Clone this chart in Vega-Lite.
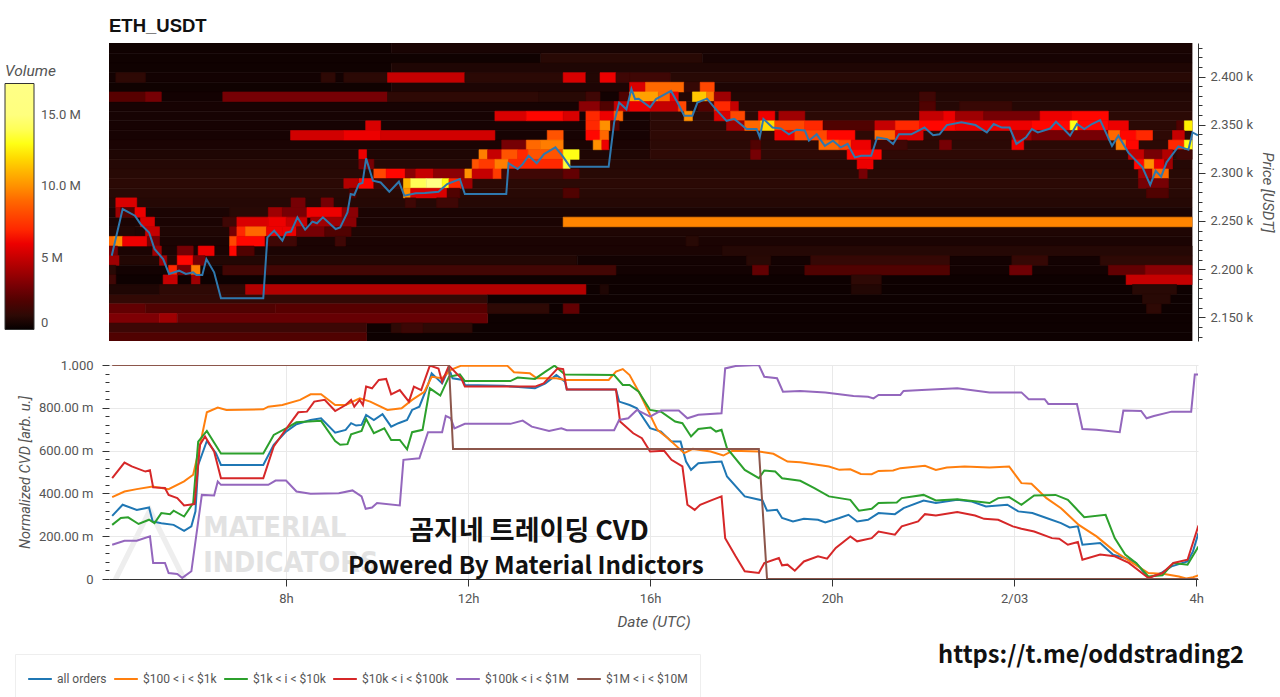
{"$schema":"https://vega.github.io/schema/vega-lite/v6.json","background":"white","padding":{"left":5,"top":17,"right":2,"bottom":0},"config":{"view":{"stroke":null},"font":"Roboto"},"spacing":15,"vconcat":[{"width":1089,"height":298,"title":{"text":"ETH_USDT","anchor":"start","frame":"group","fontSize":18.5,"fontWeight":"bold","font":"Liberation Sans","color":"#111","offset":6},"layer":[{"data":{"name":"heat"},"mark":{"type":"rect","clip":true,"strokeWidth":0.6},"encoding":{"x":{"field":"a","type":"quantitative","scale":{"domain":[4.11,28.04],"nice":false},"axis":null},"x2":{"field":"b"},"y":{"field":"lo","type":"quantitative","scale":{"domain":[2125.4,2434.8],"nice":false,"zero":false},"axis":{"orient":"right","tickCount":100,"values":[2130,2140,2150,2160,2170,2180,2190,2200,2210,2220,2230,2240,2250,2260,2270,2280,2290,2300,2310,2320,2330,2340,2350,2360,2370,2380,2390,2400,2410,2420,2430],"labelExpr":"datum.value%50==0?format(datum.value/1000,'.3f')+' k':''","grid":false,"tickSize":{"condition":{"test":"datum.value%50==0","value":7},"value":4},"domain":true,"domainColor":"#333","tickColor":"#333","labelColor":"#555","labelFontSize":13,"labelFlush":false,"labelOverlap":false,"labelPadding":5,"title":"Price [USDT]","titleFontStyle":"italic","titleFontWeight":"normal","titleFontSize":15,"titleColor":"#555","titlePadding":7}},"y2":{"field":"hi"},"color":{"field":"vol","type":"quantitative","scale":{"domain":[0,17200000],"range":["#050000","#550000","#aa0000","#ff0000","#ff5500","#ffaa00","#ffff00","#ffff80","#ffffff"]},"legend":{"orient":"none","legendX":-104,"legendY":21,"title":"Volume","titleFontStyle":"italic","titleFontWeight":"normal","titleFontSize":15.5,"titleColor":"#555","titlePadding":4,"gradientLength":246,"gradientThickness":29,"gradientStrokeColor":"#333","gradientStrokeWidth":1,"values":[0,5000000,10000000,15000000],"labelExpr":"datum.value==0?'0':datum.value==5000000?'5 M':format(datum.value/1000000,'.1f')+' M'","labelFontSize":13,"labelColor":"#555","labelOffset":7}},"stroke":{"field":"vol","type":"quantitative","scale":{"domain":[0,17200000],"range":["#050000","#550000","#aa0000","#ff0000","#ff5500","#ffaa00","#ffff00","#ffff80","#ffffff"]},"legend":null}}},{"data":{"name":"price"},"mark":{"type":"line","clip":true,"color":"#2f78ae","strokeWidth":2},"encoding":{"x":{"field":"h","type":"quantitative"},"y":{"field":"p","type":"quantitative"}}}]},{"width":1089,"height":214,"layer":[{"data":{"values":[{"h":5.01,"v":0.18,"label":"△"}]},"mark":{"type":"text","fontSize":105,"color":"#eeeeee","font":"DejaVu Sans","clip":true},"encoding":{"x":{"field":"h","type":"quantitative","scale":{"domain":[4.11,28.04],"nice":false},"axis":{"tickCount":100,"values":[8,12,16,20,24,28],"labelExpr":"datum.value==24?'2/03':datum.value==28?'4h':datum.value+'h'","grid":true,"gridColor":"#e9e9e9","domainColor":"#333","tickColor":"#333","tickSize":7,"labelColor":"#555","labelFontSize":13,"labelPadding":6,"title":"Date (UTC)","titleFontStyle":"italic","titleFontWeight":"normal","titleFontSize":15.5,"titleColor":"#555","titlePadding":9}},"y":{"field":"v","type":"quantitative","scale":{"domain":[0,1],"nice":false},"axis":{"tickCount":100,"values":[0,0.04,0.08,0.12,0.16,0.2,0.24,0.28,0.32,0.36,0.4,0.44,0.48,0.52,0.56,0.6,0.64,0.68,0.72,0.76,0.8,0.84,0.88,0.92,0.96,1],"labelExpr":"round(datum.value*1000)%200!=0?'':datum.value==0?'0':datum.value==1?'1.000':format(datum.value*1000,'.2f')+' m'","labelOverlap":false,"grid":true,"gridColor":"#e9e9e9","gridOpacity":{"condition":{"test":"round(datum.value*1000)%200==0","value":1},"value":0},"domain":false,"tickColor":"#333","tickSize":{"condition":{"test":"round(datum.value*1000)%200==0","value":7},"value":4},"labelColor":"#555","labelFontSize":13,"labelPadding":9,"title":"Normalized CVD [arb. u.]","titleFontStyle":"italic","titleFontWeight":"normal","titleFontSize":14.5,"titleColor":"#555","titlePadding":6}},"text":{"field":"label"}}},{"data":{"values":[{"h":6.18,"v":0.24,"label":"MATERIAL"},{"h":6.18,"v":0.077,"label":"INDICATORS"}]},"mark":{"type":"text","align":"left","fontSize":28.4,"fontWeight":"bold","font":"DejaVu Sans Condensed","color":"#e2e2e2"},"encoding":{"x":{"field":"h","type":"quantitative"},"y":{"field":"v","type":"quantitative"},"text":{"field":"label"}}},{"data":{"name":"cvd"},"mark":{"type":"line","strokeWidth":2,"clip":true},"encoding":{"x":{"field":"h","type":"quantitative"},"y":{"field":"v","type":"quantitative"},"color":{"field":"s","type":"nominal","scale":{"domain":["all orders","$100 < i < $1k","$1k < i < $10k","$10k < i < $100k","$100k < i < $1M","$1M < i < $10M"],"range":["#1f77b4","#ff7f0e","#2ca02c","#d62728","#9467bd","#8c564b"]},"legend":{"orient":"none","legendX":-94,"legendY":289,"direction":"horizontal","columns":6,"title":null,"symbolType":"stroke","symbolSize":560,"symbolStrokeWidth":2,"labelFontSize":12,"labelColor":"#555","columnPadding":3,"fillColor":"white","strokeColor":"#eeeeee","padding":12}}}},{"data":{"values":[{"h":13.34,"v":0.219,"label":"곰지네 트레이딩 CVD"}]},"mark":{"type":"text","fontSize":27,"fontWeight":"bold","font":"Noto Sans CJK KR","color":"#111"},"encoding":{"x":{"field":"h","type":"quantitative"},"y":{"field":"v","type":"quantitative"},"text":{"field":"label"}}},{"data":{"values":[{"h":13.27,"v":0.056,"label":"Powered By Material Indictors"}]},"mark":{"type":"text","fontSize":24.2,"fontWeight":"bold","font":"Noto Sans CJK KR","color":"#111"},"encoding":{"x":{"field":"h","type":"quantitative"},"y":{"field":"v","type":"quantitative"},"text":{"field":"label"}}},{"data":{"values":[{"h":25.69,"v":-0.36,"label":"https://t.me/oddstrading2"}]},"mark":{"type":"text","fontSize":23.7,"fontWeight":"bold","font":"Noto Sans CJK KR","color":"#111"},"encoding":{"x":{"field":"h","type":"quantitative"},"y":{"field":"v","type":"quantitative"},"text":{"field":"label"}}}]}],"resolve":{"scale":{"color":"independent"}},"datasets":{"price":[{"h":4.17,"p":2214},{"h":4.41,"p":2262.4},{"h":4.68,"p":2255.5},{"h":4.8,"p":2247},{"h":4.99,"p":2238},{"h":5.11,"p":2221},{"h":5.3,"p":2210.5},{"h":5.43,"p":2195},{"h":5.65,"p":2198.4},{"h":5.8,"p":2195},{"h":5.96,"p":2196.7},{"h":6.03,"p":2194},{"h":6.16,"p":2194},{"h":6.25,"p":2210.5},{"h":6.42,"p":2196.7},{"h":6.57,"p":2169.7},{"h":7.5,"p":2169.7},{"h":7.59,"p":2233},{"h":7.74,"p":2240},{"h":7.92,"p":2229.6},{"h":8.0,"p":2238},{"h":8.11,"p":2239},{"h":8.25,"p":2253.8},{"h":8.42,"p":2241},{"h":8.58,"p":2249.3},{"h":8.68,"p":2247.6},{"h":8.81,"p":2253.8},{"h":9.09,"p":2241.7},{"h":9.19,"p":2243.4},{"h":9.35,"p":2259},{"h":9.42,"p":2278},{"h":9.5,"p":2277},{"h":9.6,"p":2288.4},{"h":9.68,"p":2289.4},{"h":9.76,"p":2315},{"h":9.91,"p":2291.8},{"h":10.08,"p":2290},{"h":10.27,"p":2280.4},{"h":10.48,"p":2290.8},{"h":10.6,"p":2276.3},{"h":10.85,"p":2278.7},{"h":11.05,"p":2279},{"h":11.35,"p":2280.4},{"h":11.54,"p":2288.4},{"h":11.82,"p":2293.6},{"h":11.93,"p":2278},{"h":12.84,"p":2278},{"h":12.89,"p":2310},{"h":13.09,"p":2304},{"h":13.2,"p":2309},{"h":13.33,"p":2317.8},{"h":13.51,"p":2310},{"h":13.67,"p":2319.5},{"h":13.92,"p":2326.4},{"h":14.07,"p":2317.8},{"h":14.24,"p":2306.4},{"h":15.09,"p":2306.4},{"h":15.21,"p":2352.4},{"h":15.32,"p":2373},{"h":15.48,"p":2366},{"h":15.59,"p":2387},{"h":15.67,"p":2376.6},{"h":15.75,"p":2377},{"h":16.0,"p":2368},{"h":16.13,"p":2376.6},{"h":16.26,"p":2380},{"h":16.46,"p":2385},{"h":16.62,"p":2371.4},{"h":16.75,"p":2359.3},{"h":16.93,"p":2359.3},{"h":17.04,"p":2373},{"h":17.25,"p":2377},{"h":17.41,"p":2368},{"h":17.68,"p":2354},{"h":17.85,"p":2356},{"h":18.12,"p":2345.5},{"h":18.34,"p":2345.5},{"h":18.41,"p":2337},{"h":18.49,"p":2356},{"h":18.69,"p":2347},{"h":18.87,"p":2346},{"h":19.05,"p":2340},{"h":19.22,"p":2344.8},{"h":19.4,"p":2344},{"h":19.49,"p":2333.4},{"h":19.66,"p":2340},{"h":19.84,"p":2328},{"h":20.02,"p":2333.4},{"h":20.19,"p":2326.4},{"h":20.34,"p":2330},{"h":20.5,"p":2316},{"h":20.64,"p":2317.8},{"h":20.86,"p":2317.8},{"h":20.99,"p":2336.8},{"h":21.21,"p":2335},{"h":21.34,"p":2330},{"h":21.47,"p":2340},{"h":21.74,"p":2340},{"h":22.03,"p":2347},{"h":22.22,"p":2339},{"h":22.36,"p":2340},{"h":22.52,"p":2349.6},{"h":22.84,"p":2352.4},{"h":23.15,"p":2349.6},{"h":23.4,"p":2342},{"h":23.55,"p":2350.7},{"h":23.73,"p":2347},{"h":23.9,"p":2347},{"h":24.05,"p":2330},{"h":24.26,"p":2336.8},{"h":24.39,"p":2345.5},{"h":24.52,"p":2342},{"h":24.79,"p":2346},{"h":24.92,"p":2353},{"h":25.09,"p":2345.5},{"h":25.23,"p":2338.6},{"h":25.38,"p":2350.7},{"h":25.54,"p":2345.5},{"h":25.71,"p":2350.7},{"h":25.89,"p":2354.8},{"h":26.15,"p":2328},{"h":26.29,"p":2338.6},{"h":26.51,"p":2321},{"h":26.82,"p":2305.7},{"h":26.99,"p":2287.4},{"h":27.11,"p":2302},{"h":27.23,"p":2296},{"h":27.35,"p":2310.9},{"h":27.61,"p":2327.5},{"h":27.83,"p":2324},{"h":27.92,"p":2342},{"h":28.04,"p":2339}],"cvd":[{"s":"all orders","h":4.18,"v":0.295},{"s":"all orders","h":4.41,"v":0.347},{"s":"all orders","h":4.72,"v":0.323},{"s":"all orders","h":4.99,"v":0.334},{"s":"all orders","h":5.07,"v":0.269},{"s":"all orders","h":5.26,"v":0.261},{"s":"all orders","h":5.53,"v":0.253},{"s":"all orders","h":5.76,"v":0.225},{"s":"all orders","h":5.92,"v":0.246},{"s":"all orders","h":6.01,"v":0.316},{"s":"all orders","h":6.07,"v":0.533},{"s":"all orders","h":6.26,"v":0.645},{"s":"all orders","h":6.46,"v":0.588},{"s":"all orders","h":6.57,"v":0.533},{"s":"all orders","h":7.5,"v":0.533},{"s":"all orders","h":7.73,"v":0.627},{"s":"all orders","h":8.0,"v":0.689},{"s":"all orders","h":8.23,"v":0.723},{"s":"all orders","h":8.54,"v":0.743},{"s":"all orders","h":8.77,"v":0.751},{"s":"all orders","h":9.08,"v":0.684},{"s":"all orders","h":9.31,"v":0.697},{"s":"all orders","h":9.43,"v":0.728},{"s":"all orders","h":9.54,"v":0.717},{"s":"all orders","h":9.66,"v":0.72},{"s":"all orders","h":9.76,"v":0.767},{"s":"all orders","h":9.93,"v":0.743},{"s":"all orders","h":10.12,"v":0.77},{"s":"all orders","h":10.31,"v":0.712},{"s":"all orders","h":10.47,"v":0.728},{"s":"all orders","h":10.66,"v":0.743},{"s":"all orders","h":10.77,"v":0.79},{"s":"all orders","h":10.93,"v":0.805},{"s":"all orders","h":11.12,"v":0.907},{"s":"all orders","h":11.2,"v":0.961},{"s":"all orders","h":11.43,"v":0.914},{"s":"all orders","h":11.58,"v":0.984},{"s":"all orders","h":11.66,"v":0.938},{"s":"all orders","h":11.89,"v":0.93},{"s":"all orders","h":11.93,"v":0.907},{"s":"all orders","h":12.78,"v":0.903},{"s":"all orders","h":13.47,"v":0.891},{"s":"all orders","h":13.7,"v":0.914},{"s":"all orders","h":13.94,"v":0.953},{"s":"all orders","h":14.13,"v":0.922},{"s":"all orders","h":14.17,"v":0.886},{"s":"all orders","h":15.25,"v":0.886},{"s":"all orders","h":15.32,"v":0.829},{"s":"all orders","h":15.55,"v":0.813},{"s":"all orders","h":15.71,"v":0.798},{"s":"all orders","h":16.0,"v":0.705},{"s":"all orders","h":16.24,"v":0.689},{"s":"all orders","h":16.47,"v":0.642},{"s":"all orders","h":16.67,"v":0.642},{"s":"all orders","h":16.79,"v":0.549},{"s":"all orders","h":16.9,"v":0.51},{"s":"all orders","h":17.06,"v":0.541},{"s":"all orders","h":17.33,"v":0.546},{"s":"all orders","h":17.57,"v":0.549},{"s":"all orders","h":17.69,"v":0.479},{"s":"all orders","h":18.08,"v":0.386},{"s":"all orders","h":18.47,"v":0.367},{"s":"all orders","h":18.57,"v":0.319},{"s":"all orders","h":18.79,"v":0.323},{"s":"all orders","h":18.9,"v":0.285},{"s":"all orders","h":19.14,"v":0.269},{"s":"all orders","h":19.38,"v":0.281},{"s":"all orders","h":19.69,"v":0.277},{"s":"all orders","h":19.85,"v":0.264},{"s":"all orders","h":20.16,"v":0.285},{"s":"all orders","h":20.36,"v":0.3},{"s":"all orders","h":20.55,"v":0.269},{"s":"all orders","h":20.79,"v":0.277},{"s":"all orders","h":21.02,"v":0.308},{"s":"all orders","h":21.38,"v":0.303},{"s":"all orders","h":21.57,"v":0.331},{"s":"all orders","h":22.01,"v":0.367},{"s":"all orders","h":22.28,"v":0.355},{"s":"all orders","h":22.75,"v":0.37},{"s":"all orders","h":23.07,"v":0.362},{"s":"all orders","h":23.38,"v":0.339},{"s":"all orders","h":23.85,"v":0.347},{"s":"all orders","h":24.09,"v":0.316},{"s":"all orders","h":24.4,"v":0.308},{"s":"all orders","h":24.71,"v":0.285},{"s":"all orders","h":25.03,"v":0.261},{"s":"all orders","h":25.22,"v":0.241},{"s":"all orders","h":25.4,"v":0.246},{"s":"all orders","h":25.5,"v":0.16},{"s":"all orders","h":25.89,"v":0.168},{"s":"all orders","h":26.17,"v":0.114},{"s":"all orders","h":26.44,"v":0.098},{"s":"all orders","h":26.68,"v":0.075},{"s":"all orders","h":26.95,"v":0.005},{"s":"all orders","h":27.23,"v":0.028},{"s":"all orders","h":27.46,"v":0.059},{"s":"all orders","h":27.81,"v":0.082},{"s":"all orders","h":27.93,"v":0.129},{"s":"all orders","h":28.05,"v":0.215},{"s":"$100 < i < $1k","h":4.18,"v":0.383},{"s":"$100 < i < $1k","h":4.45,"v":0.409},{"s":"$100 < i < $1k","h":4.72,"v":0.42},{"s":"$100 < i < $1k","h":5.07,"v":0.432},{"s":"$100 < i < $1k","h":5.42,"v":0.42},{"s":"$100 < i < $1k","h":5.76,"v":0.456},{"s":"$100 < i < $1k","h":5.96,"v":0.487},{"s":"$100 < i < $1k","h":6.11,"v":0.627},{"s":"$100 < i < $1k","h":6.26,"v":0.779},{"s":"$100 < i < $1k","h":6.5,"v":0.801},{"s":"$100 < i < $1k","h":6.69,"v":0.79},{"s":"$100 < i < $1k","h":7.5,"v":0.793},{"s":"$100 < i < $1k","h":7.61,"v":0.805},{"s":"$100 < i < $1k","h":7.92,"v":0.813},{"s":"$100 < i < $1k","h":8.31,"v":0.837},{"s":"$100 < i < $1k","h":8.54,"v":0.863},{"s":"$100 < i < $1k","h":8.77,"v":0.863},{"s":"$100 < i < $1k","h":9.08,"v":0.813},{"s":"$100 < i < $1k","h":9.31,"v":0.813},{"s":"$100 < i < $1k","h":9.62,"v":0.844},{"s":"$100 < i < $1k","h":9.85,"v":0.829},{"s":"$100 < i < $1k","h":10.23,"v":0.79},{"s":"$100 < i < $1k","h":10.54,"v":0.798},{"s":"$100 < i < $1k","h":10.77,"v":0.837},{"s":"$100 < i < $1k","h":11.04,"v":0.875},{"s":"$100 < i < $1k","h":11.2,"v":0.945},{"s":"$100 < i < $1k","h":11.43,"v":0.938},{"s":"$100 < i < $1k","h":11.62,"v":0.977},{"s":"$100 < i < $1k","h":11.85,"v":0.997},{"s":"$100 < i < $1k","h":12.86,"v":0.997},{"s":"$100 < i < $1k","h":13.01,"v":0.966},{"s":"$100 < i < $1k","h":13.36,"v":0.961},{"s":"$100 < i < $1k","h":13.51,"v":0.938},{"s":"$100 < i < $1k","h":13.94,"v":0.938},{"s":"$100 < i < $1k","h":14.13,"v":0.93},{"s":"$100 < i < $1k","h":15.09,"v":0.93},{"s":"$100 < i < $1k","h":15.25,"v":0.969},{"s":"$100 < i < $1k","h":15.4,"v":0.981},{"s":"$100 < i < $1k","h":15.55,"v":0.953},{"s":"$100 < i < $1k","h":15.79,"v":0.86},{"s":"$100 < i < $1k","h":16.0,"v":0.767},{"s":"$100 < i < $1k","h":16.16,"v":0.697},{"s":"$100 < i < $1k","h":16.39,"v":0.658},{"s":"$100 < i < $1k","h":16.75,"v":0.588},{"s":"$100 < i < $1k","h":16.94,"v":0.608},{"s":"$100 < i < $1k","h":17.33,"v":0.596},{"s":"$100 < i < $1k","h":17.61,"v":0.577},{"s":"$100 < i < $1k","h":17.81,"v":0.599},{"s":"$100 < i < $1k","h":18.39,"v":0.596},{"s":"$100 < i < $1k","h":18.71,"v":0.585},{"s":"$100 < i < $1k","h":19.02,"v":0.549},{"s":"$100 < i < $1k","h":19.3,"v":0.546},{"s":"$100 < i < $1k","h":19.93,"v":0.526},{"s":"$100 < i < $1k","h":20.16,"v":0.51},{"s":"$100 < i < $1k","h":20.4,"v":0.513},{"s":"$100 < i < $1k","h":20.63,"v":0.491},{"s":"$100 < i < $1k","h":20.87,"v":0.49},{"s":"$100 < i < $1k","h":21.02,"v":0.505},{"s":"$100 < i < $1k","h":21.34,"v":0.507},{"s":"$100 < i < $1k","h":21.5,"v":0.518},{"s":"$100 < i < $1k","h":22.04,"v":0.529},{"s":"$100 < i < $1k","h":22.28,"v":0.51},{"s":"$100 < i < $1k","h":22.52,"v":0.521},{"s":"$100 < i < $1k","h":22.91,"v":0.526},{"s":"$100 < i < $1k","h":23.46,"v":0.521},{"s":"$100 < i < $1k","h":23.89,"v":0.526},{"s":"$100 < i < $1k","h":24.16,"v":0.448},{"s":"$100 < i < $1k","h":24.38,"v":0.445},{"s":"$100 < i < $1k","h":24.71,"v":0.378},{"s":"$100 < i < $1k","h":25.03,"v":0.331},{"s":"$100 < i < $1k","h":25.42,"v":0.253},{"s":"$100 < i < $1k","h":25.81,"v":0.199},{"s":"$100 < i < $1k","h":26.21,"v":0.129},{"s":"$100 < i < $1k","h":26.6,"v":0.075},{"s":"$100 < i < $1k","h":26.95,"v":0.028},{"s":"$100 < i < $1k","h":27.3,"v":0.023},{"s":"$100 < i < $1k","h":27.62,"v":0.012},{"s":"$100 < i < $1k","h":27.78,"v":0.002},{"s":"$100 < i < $1k","h":27.93,"v":0.008},{"s":"$100 < i < $1k","h":28.05,"v":0.017},{"s":"$1k < i < $10k","h":4.18,"v":0.253},{"s":"$1k < i < $10k","h":4.37,"v":0.285},{"s":"$1k < i < $10k","h":4.53,"v":0.288},{"s":"$1k < i < $10k","h":4.76,"v":0.257},{"s":"$1k < i < $10k","h":4.99,"v":0.277},{"s":"$1k < i < $10k","h":5.11,"v":0.261},{"s":"$1k < i < $10k","h":5.26,"v":0.308},{"s":"$1k < i < $10k","h":5.45,"v":0.303},{"s":"$1k < i < $10k","h":5.53,"v":0.319},{"s":"$1k < i < $10k","h":5.76,"v":0.292},{"s":"$1k < i < $10k","h":5.96,"v":0.355},{"s":"$1k < i < $10k","h":6.07,"v":0.642},{"s":"$1k < i < $10k","h":6.26,"v":0.692},{"s":"$1k < i < $10k","h":6.57,"v":0.586},{"s":"$1k < i < $10k","h":7.5,"v":0.586},{"s":"$1k < i < $10k","h":7.73,"v":0.673},{"s":"$1k < i < $10k","h":8.0,"v":0.704},{"s":"$1k < i < $10k","h":8.23,"v":0.732},{"s":"$1k < i < $10k","h":8.77,"v":0.739},{"s":"$1k < i < $10k","h":9.08,"v":0.645},{"s":"$1k < i < $10k","h":9.19,"v":0.627},{"s":"$1k < i < $10k","h":9.35,"v":0.63},{"s":"$1k < i < $10k","h":9.43,"v":0.676},{"s":"$1k < i < $10k","h":9.66,"v":0.692},{"s":"$1k < i < $10k","h":9.76,"v":0.748},{"s":"$1k < i < $10k","h":9.93,"v":0.681},{"s":"$1k < i < $10k","h":10.16,"v":0.704},{"s":"$1k < i < $10k","h":10.31,"v":0.65},{"s":"$1k < i < $10k","h":10.5,"v":0.65},{"s":"$1k < i < $10k","h":10.66,"v":0.606},{"s":"$1k < i < $10k","h":10.77,"v":0.686},{"s":"$1k < i < $10k","h":11.0,"v":0.697},{"s":"$1k < i < $10k","h":11.16,"v":0.891},{"s":"$1k < i < $10k","h":11.39,"v":0.857},{"s":"$1k < i < $10k","h":11.58,"v":0.945},{"s":"$1k < i < $10k","h":11.82,"v":0.956},{"s":"$1k < i < $10k","h":11.93,"v":0.925},{"s":"$1k < i < $10k","h":12.93,"v":0.925},{"s":"$1k < i < $10k","h":13.09,"v":0.941},{"s":"$1k < i < $10k","h":13.47,"v":0.935},{"s":"$1k < i < $10k","h":13.7,"v":0.969},{"s":"$1k < i < $10k","h":13.9,"v":0.997},{"s":"$1k < i < $10k","h":14.13,"v":0.956},{"s":"$1k < i < $10k","h":15.21,"v":0.953},{"s":"$1k < i < $10k","h":15.4,"v":0.907},{"s":"$1k < i < $10k","h":15.55,"v":0.907},{"s":"$1k < i < $10k","h":15.75,"v":0.875},{"s":"$1k < i < $10k","h":16.0,"v":0.79},{"s":"$1k < i < $10k","h":16.24,"v":0.782},{"s":"$1k < i < $10k","h":16.55,"v":0.736},{"s":"$1k < i < $10k","h":16.71,"v":0.728},{"s":"$1k < i < $10k","h":16.9,"v":0.666},{"s":"$1k < i < $10k","h":17.06,"v":0.701},{"s":"$1k < i < $10k","h":17.33,"v":0.708},{"s":"$1k < i < $10k","h":17.45,"v":0.689},{"s":"$1k < i < $10k","h":17.57,"v":0.697},{"s":"$1k < i < $10k","h":17.69,"v":0.611},{"s":"$1k < i < $10k","h":18.08,"v":0.51},{"s":"$1k < i < $10k","h":18.39,"v":0.471},{"s":"$1k < i < $10k","h":18.51,"v":0.507},{"s":"$1k < i < $10k","h":18.75,"v":0.502},{"s":"$1k < i < $10k","h":18.9,"v":0.471},{"s":"$1k < i < $10k","h":19.3,"v":0.459},{"s":"$1k < i < $10k","h":19.61,"v":0.425},{"s":"$1k < i < $10k","h":19.93,"v":0.386},{"s":"$1k < i < $10k","h":20.4,"v":0.37},{"s":"$1k < i < $10k","h":20.59,"v":0.319},{"s":"$1k < i < $10k","h":20.87,"v":0.328},{"s":"$1k < i < $10k","h":21.02,"v":0.355},{"s":"$1k < i < $10k","h":21.42,"v":0.358},{"s":"$1k < i < $10k","h":21.53,"v":0.378},{"s":"$1k < i < $10k","h":22.01,"v":0.393},{"s":"$1k < i < $10k","h":22.28,"v":0.367},{"s":"$1k < i < $10k","h":22.75,"v":0.373},{"s":"$1k < i < $10k","h":23.46,"v":0.355},{"s":"$1k < i < $10k","h":23.65,"v":0.378},{"s":"$1k < i < $10k","h":23.89,"v":0.383},{"s":"$1k < i < $10k","h":24.16,"v":0.347},{"s":"$1k < i < $10k","h":24.44,"v":0.39},{"s":"$1k < i < $10k","h":24.91,"v":0.393},{"s":"$1k < i < $10k","h":25.18,"v":0.37},{"s":"$1k < i < $10k","h":25.34,"v":0.334},{"s":"$1k < i < $10k","h":25.54,"v":0.289},{"s":"$1k < i < $10k","h":26.01,"v":0.3},{"s":"$1k < i < $10k","h":26.21,"v":0.191},{"s":"$1k < i < $10k","h":26.44,"v":0.114},{"s":"$1k < i < $10k","h":26.68,"v":0.075},{"s":"$1k < i < $10k","h":26.95,"v":0.012},{"s":"$1k < i < $10k","h":27.26,"v":0.017},{"s":"$1k < i < $10k","h":27.5,"v":0.075},{"s":"$1k < i < $10k","h":27.81,"v":0.067},{"s":"$1k < i < $10k","h":28.05,"v":0.152},{"s":"$10k < i < $100k","h":4.18,"v":0.471},{"s":"$10k < i < $100k","h":4.45,"v":0.544},{"s":"$10k < i < $100k","h":4.61,"v":0.526},{"s":"$10k < i < $100k","h":4.91,"v":0.502},{"s":"$10k < i < $100k","h":5.01,"v":0.508},{"s":"$10k < i < $100k","h":5.08,"v":0.428},{"s":"$10k < i < $100k","h":5.34,"v":0.425},{"s":"$10k < i < $100k","h":5.42,"v":0.393},{"s":"$10k < i < $100k","h":5.61,"v":0.378},{"s":"$10k < i < $100k","h":5.76,"v":0.344},{"s":"$10k < i < $100k","h":5.99,"v":0.35},{"s":"$10k < i < $100k","h":6.11,"v":0.627},{"s":"$10k < i < $100k","h":6.22,"v":0.666},{"s":"$10k < i < $100k","h":6.42,"v":0.596},{"s":"$10k < i < $100k","h":6.57,"v":0.471},{"s":"$10k < i < $100k","h":7.5,"v":0.471},{"s":"$10k < i < $100k","h":7.73,"v":0.619},{"s":"$10k < i < $100k","h":8.0,"v":0.701},{"s":"$10k < i < $100k","h":8.27,"v":0.779},{"s":"$10k < i < $100k","h":8.46,"v":0.782},{"s":"$10k < i < $100k","h":8.62,"v":0.829},{"s":"$10k < i < $100k","h":8.85,"v":0.837},{"s":"$10k < i < $100k","h":9.08,"v":0.785},{"s":"$10k < i < $100k","h":9.31,"v":0.813},{"s":"$10k < i < $100k","h":9.43,"v":0.837},{"s":"$10k < i < $100k","h":9.5,"v":0.805},{"s":"$10k < i < $100k","h":9.62,"v":0.837},{"s":"$10k < i < $100k","h":9.69,"v":0.813},{"s":"$10k < i < $100k","h":9.76,"v":0.899},{"s":"$10k < i < $100k","h":9.89,"v":0.891},{"s":"$10k < i < $100k","h":10.04,"v":0.93},{"s":"$10k < i < $100k","h":10.2,"v":0.935},{"s":"$10k < i < $100k","h":10.31,"v":0.863},{"s":"$10k < i < $100k","h":10.5,"v":0.883},{"s":"$10k < i < $100k","h":10.7,"v":0.829},{"s":"$10k < i < $100k","h":10.81,"v":0.899},{"s":"$10k < i < $100k","h":10.97,"v":0.883},{"s":"$10k < i < $100k","h":11.16,"v":0.997},{"s":"$10k < i < $100k","h":11.35,"v":0.984},{"s":"$10k < i < $100k","h":11.43,"v":0.922},{"s":"$10k < i < $100k","h":11.58,"v":0.997},{"s":"$10k < i < $100k","h":11.85,"v":0.938},{"s":"$10k < i < $100k","h":11.93,"v":0.899},{"s":"$10k < i < $100k","h":13.47,"v":0.899},{"s":"$10k < i < $100k","h":13.66,"v":0.914},{"s":"$10k < i < $100k","h":13.97,"v":0.984},{"s":"$10k < i < $100k","h":14.09,"v":0.981},{"s":"$10k < i < $100k","h":14.17,"v":0.886},{"s":"$10k < i < $100k","h":15.25,"v":0.886},{"s":"$10k < i < $100k","h":15.34,"v":0.736},{"s":"$10k < i < $100k","h":15.63,"v":0.681},{"s":"$10k < i < $100k","h":15.82,"v":0.658},{"s":"$10k < i < $100k","h":16.0,"v":0.596},{"s":"$10k < i < $100k","h":16.31,"v":0.599},{"s":"$10k < i < $100k","h":16.47,"v":0.557},{"s":"$10k < i < $100k","h":16.71,"v":0.526},{"s":"$10k < i < $100k","h":16.82,"v":0.347},{"s":"$10k < i < $100k","h":16.98,"v":0.323},{"s":"$10k < i < $100k","h":17.1,"v":0.347},{"s":"$10k < i < $100k","h":17.37,"v":0.37},{"s":"$10k < i < $100k","h":17.57,"v":0.386},{"s":"$10k < i < $100k","h":17.65,"v":0.191},{"s":"$10k < i < $100k","h":17.88,"v":0.106},{"s":"$10k < i < $100k","h":18.08,"v":0.036},{"s":"$10k < i < $100k","h":18.39,"v":0.028},{"s":"$10k < i < $100k","h":18.51,"v":0.075},{"s":"$10k < i < $100k","h":18.83,"v":0.098},{"s":"$10k < i < $100k","h":18.9,"v":0.064},{"s":"$10k < i < $100k","h":19.02,"v":0.067},{"s":"$10k < i < $100k","h":19.18,"v":0.039},{"s":"$10k < i < $100k","h":19.38,"v":0.082},{"s":"$10k < i < $100k","h":19.69,"v":0.106},{"s":"$10k < i < $100k","h":19.89,"v":0.095},{"s":"$10k < i < $100k","h":20.08,"v":0.145},{"s":"$10k < i < $100k","h":20.4,"v":0.199},{"s":"$10k < i < $100k","h":20.55,"v":0.176},{"s":"$10k < i < $100k","h":20.87,"v":0.191},{"s":"$10k < i < $100k","h":21.02,"v":0.222},{"s":"$10k < i < $100k","h":21.38,"v":0.207},{"s":"$10k < i < $100k","h":21.53,"v":0.246},{"s":"$10k < i < $100k","h":21.89,"v":0.269},{"s":"$10k < i < $100k","h":22.04,"v":0.303},{"s":"$10k < i < $100k","h":22.28,"v":0.297},{"s":"$10k < i < $100k","h":22.75,"v":0.313},{"s":"$10k < i < $100k","h":23.14,"v":0.297},{"s":"$10k < i < $100k","h":23.34,"v":0.281},{"s":"$10k < i < $100k","h":23.65,"v":0.277},{"s":"$10k < i < $100k","h":23.97,"v":0.246},{"s":"$10k < i < $100k","h":24.16,"v":0.235},{"s":"$10k < i < $100k","h":24.44,"v":0.222},{"s":"$10k < i < $100k","h":24.83,"v":0.191},{"s":"$10k < i < $100k","h":24.99,"v":0.188},{"s":"$10k < i < $100k","h":25.18,"v":0.16},{"s":"$10k < i < $100k","h":25.4,"v":0.173},{"s":"$10k < i < $100k","h":25.5,"v":0.09},{"s":"$10k < i < $100k","h":25.89,"v":0.114},{"s":"$10k < i < $100k","h":26.21,"v":0.106},{"s":"$10k < i < $100k","h":26.52,"v":0.075},{"s":"$10k < i < $100k","h":26.95,"v":0.005},{"s":"$10k < i < $100k","h":27.26,"v":0.028},{"s":"$10k < i < $100k","h":27.5,"v":0.075},{"s":"$10k < i < $100k","h":27.81,"v":0.09},{"s":"$10k < i < $100k","h":28.05,"v":0.25},{"s":"$100k < i < $1M","h":4.18,"v":0.16},{"s":"$100k < i < $1M","h":4.45,"v":0.179},{"s":"$100k < i < $1M","h":4.72,"v":0.179},{"s":"$100k < i < $1M","h":5.01,"v":0.199},{"s":"$100k < i < $1M","h":5.08,"v":0.075},{"s":"$100k < i < $1M","h":5.34,"v":0.075},{"s":"$100k < i < $1M","h":5.42,"v":0.028},{"s":"$100k < i < $1M","h":5.61,"v":0.023},{"s":"$100k < i < $1M","h":5.72,"v":0.005},{"s":"$100k < i < $1M","h":5.92,"v":0.036},{"s":"$100k < i < $1M","h":6.15,"v":0.393},{"s":"$100k < i < $1M","h":6.42,"v":0.39},{"s":"$100k < i < $1M","h":6.5,"v":0.456},{"s":"$100k < i < $1M","h":6.57,"v":0.44},{"s":"$100k < i < $1M","h":7.61,"v":0.44},{"s":"$100k < i < $1M","h":7.77,"v":0.46},{"s":"$100k < i < $1M","h":8.0,"v":0.46},{"s":"$100k < i < $1M","h":8.23,"v":0.409},{"s":"$100k < i < $1M","h":8.54,"v":0.398},{"s":"$100k < i < $1M","h":9.16,"v":0.401},{"s":"$100k < i < $1M","h":9.46,"v":0.414},{"s":"$100k < i < $1M","h":9.66,"v":0.386},{"s":"$100k < i < $1M","h":9.75,"v":0.328},{"s":"$100k < i < $1M","h":9.89,"v":0.334},{"s":"$100k < i < $1M","h":10.0,"v":0.355},{"s":"$100k < i < $1M","h":10.5,"v":0.344},{"s":"$100k < i < $1M","h":10.58,"v":0.557},{"s":"$100k < i < $1M","h":10.93,"v":0.564},{"s":"$100k < i < $1M","h":11.12,"v":0.686},{"s":"$100k < i < $1M","h":11.43,"v":0.686},{"s":"$100k < i < $1M","h":11.51,"v":0.762},{"s":"$100k < i < $1M","h":11.62,"v":0.751},{"s":"$100k < i < $1M","h":11.7,"v":0.704},{"s":"$100k < i < $1M","h":11.93,"v":0.725},{"s":"$100k < i < $1M","h":12.93,"v":0.725},{"s":"$100k < i < $1M","h":13.2,"v":0.74},{"s":"$100k < i < $1M","h":13.4,"v":0.712},{"s":"$100k < i < $1M","h":13.78,"v":0.692},{"s":"$100k < i < $1M","h":14.05,"v":0.704},{"s":"$100k < i < $1M","h":14.17,"v":0.695},{"s":"$100k < i < $1M","h":15.21,"v":0.695},{"s":"$100k < i < $1M","h":15.32,"v":0.743},{"s":"$100k < i < $1M","h":15.52,"v":0.751},{"s":"$100k < i < $1M","h":15.71,"v":0.79},{"s":"$100k < i < $1M","h":16.0,"v":0.759},{"s":"$100k < i < $1M","h":16.24,"v":0.787},{"s":"$100k < i < $1M","h":16.63,"v":0.787},{"s":"$100k < i < $1M","h":16.82,"v":0.751},{"s":"$100k < i < $1M","h":17.06,"v":0.767},{"s":"$100k < i < $1M","h":17.57,"v":0.774},{"s":"$100k < i < $1M","h":17.65,"v":0.984},{"s":"$100k < i < $1M","h":17.88,"v":0.995},{"s":"$100k < i < $1M","h":18.39,"v":1.0},{"s":"$100k < i < $1M","h":18.51,"v":0.945},{"s":"$100k < i < $1M","h":18.79,"v":0.938},{"s":"$100k < i < $1M","h":18.92,"v":0.875},{"s":"$100k < i < $1M","h":19.3,"v":0.879},{"s":"$100k < i < $1M","h":19.85,"v":0.871},{"s":"$100k < i < $1M","h":20.47,"v":0.855},{"s":"$100k < i < $1M","h":20.79,"v":0.852},{"s":"$100k < i < $1M","h":20.91,"v":0.844},{"s":"$100k < i < $1M","h":21.02,"v":0.86},{"s":"$100k < i < $1M","h":21.5,"v":0.86},{"s":"$100k < i < $1M","h":21.57,"v":0.879},{"s":"$100k < i < $1M","h":21.97,"v":0.883},{"s":"$100k < i < $1M","h":22.75,"v":0.891},{"s":"$100k < i < $1M","h":23.46,"v":0.871},{"s":"$100k < i < $1M","h":24.16,"v":0.872},{"s":"$100k < i < $1M","h":24.32,"v":0.84},{"s":"$100k < i < $1M","h":24.67,"v":0.84},{"s":"$100k < i < $1M","h":24.75,"v":0.818},{"s":"$100k < i < $1M","h":25.38,"v":0.818},{"s":"$100k < i < $1M","h":25.5,"v":0.701},{"s":"$100k < i < $1M","h":25.81,"v":0.697},{"s":"$100k < i < $1M","h":26.32,"v":0.686},{"s":"$100k < i < $1M","h":26.4,"v":0.787},{"s":"$100k < i < $1M","h":26.79,"v":0.785},{"s":"$100k < i < $1M","h":26.91,"v":0.751},{"s":"$100k < i < $1M","h":27.07,"v":0.762},{"s":"$100k < i < $1M","h":27.46,"v":0.782},{"s":"$100k < i < $1M","h":27.89,"v":0.782},{"s":"$100k < i < $1M","h":27.97,"v":0.956},{"s":"$100k < i < $1M","h":28.05,"v":0.956},{"s":"$1M < i < $10M","h":4.18,"v":1},{"s":"$1M < i < $10M","h":11.58,"v":1},{"s":"$1M < i < $10M","h":11.67,"v":0.607},{"s":"$1M < i < $10M","h":18.39,"v":0.607},{"s":"$1M < i < $10M","h":18.57,"v":0},{"s":"$1M < i < $10M","h":28.05,"v":0}],"heat":[{"a":4.09,"b":10.31,"lo":2424,"hi":2435,"vol":150000},{"a":10.31,"b":27.91,"lo":2424,"hi":2435,"vol":350000},{"a":4.09,"b":13.6,"lo":2414,"hi":2424,"vol":150000},{"a":13.6,"b":17.15,"lo":2414,"hi":2424,"vol":800000},{"a":17.15,"b":27.91,"lo":2414,"hi":2424,"vol":300000},{"a":4.09,"b":10.31,"lo":2404,"hi":2414,"vol":150000},{"a":10.31,"b":27.91,"lo":2404,"hi":2414,"vol":500000},{"a":4.09,"b":16.44,"lo":2394,"hi":2404,"vol":200000},{"a":16.44,"b":27.91,"lo":2394,"hi":2404,"vol":800000},{"a":4.09,"b":10.31,"lo":2384,"hi":2394,"vol":150000},{"a":10.31,"b":27.91,"lo":2384,"hi":2394,"vol":450000},{"a":4.09,"b":16,"lo":2374,"hi":2384,"vol":200000},{"a":16,"b":27.91,"lo":2374,"hi":2384,"vol":600000},{"a":4.09,"b":16,"lo":2364,"hi":2374,"vol":300000},{"a":16,"b":27.91,"lo":2364,"hi":2374,"vol":700000},{"a":4.09,"b":16,"lo":2354,"hi":2364,"vol":300000},{"a":16,"b":27.91,"lo":2354,"hi":2364,"vol":900000},{"a":4.09,"b":16,"lo":2344,"hi":2354,"vol":300000},{"a":16,"b":27.91,"lo":2344,"hi":2354,"vol":900000},{"a":4.09,"b":16,"lo":2334,"hi":2344,"vol":300000},{"a":16,"b":27.91,"lo":2334,"hi":2344,"vol":1000000},{"a":4.09,"b":16,"lo":2324,"hi":2334,"vol":400000},{"a":16,"b":27.91,"lo":2324,"hi":2334,"vol":900000},{"a":4.09,"b":16,"lo":2314,"hi":2324,"vol":500000},{"a":16,"b":27.91,"lo":2314,"hi":2324,"vol":1000000},{"a":4.09,"b":27.91,"lo":2304,"hi":2314,"vol":700000},{"a":4.09,"b":27.91,"lo":2294,"hi":2304,"vol":800000},{"a":4.09,"b":27.91,"lo":2284,"hi":2294,"vol":900000},{"a":4.09,"b":27.91,"lo":2274,"hi":2284,"vol":800000},{"a":4.09,"b":27.91,"lo":2264,"hi":2274,"vol":700000},{"a":4.09,"b":27.91,"lo":2254,"hi":2264,"vol":400000},{"a":4.09,"b":27.91,"lo":2244,"hi":2254,"vol":400000},{"a":4.09,"b":27.91,"lo":2234,"hi":2244,"vol":500000},{"a":4.09,"b":27.91,"lo":2224,"hi":2234,"vol":400000},{"a":4.09,"b":27.91,"lo":2214,"hi":2224,"vol":400000},{"a":4.09,"b":14.4,"lo":2204,"hi":2214,"vol":600000},{"a":14.4,"b":27.91,"lo":2204,"hi":2214,"vol":200000},{"a":4.09,"b":27.91,"lo":2194,"hi":2204,"vol":200000},{"a":4.09,"b":27.91,"lo":2184,"hi":2194,"vol":120000},{"a":4.09,"b":27.91,"lo":2174,"hi":2184,"vol":120000},{"a":4.09,"b":12.43,"lo":2164,"hi":2174,"vol":1100000},{"a":12.43,"b":27.91,"lo":2164,"hi":2174,"vol":120000},{"a":12.43,"b":27.91,"lo":2154,"hi":2164,"vol":120000},{"a":12.43,"b":27.91,"lo":2144,"hi":2154,"vol":120000},{"a":9.77,"b":27.91,"lo":2134,"hi":2144,"vol":120000},{"a":9.77,"b":27.91,"lo":2124,"hi":2134,"vol":120000},{"a":4.26,"b":4.91,"lo":2394,"hi":2404,"vol":1000000},{"a":8.77,"b":9.08,"lo":2394,"hi":2404,"vol":1000000},{"a":9.27,"b":10.23,"lo":2394,"hi":2404,"vol":900000},{"a":10.23,"b":11.93,"lo":2394,"hi":2404,"vol":5000000},{"a":11.93,"b":14.09,"lo":2394,"hi":2404,"vol":900000},{"a":14.09,"b":14.59,"lo":2394,"hi":2404,"vol":5500000},{"a":14.59,"b":14.9,"lo":2394,"hi":2404,"vol":600000},{"a":14.9,"b":15.25,"lo":2394,"hi":2404,"vol":6000000},{"a":15.25,"b":15.55,"lo":2394,"hi":2404,"vol":1500000},{"a":15.55,"b":16.44,"lo":2394,"hi":2404,"vol":1500000},{"a":15.55,"b":15.9,"lo":2384,"hi":2394,"vol":5500000},{"a":15.9,"b":16.75,"lo":2384,"hi":2394,"vol":9000000},{"a":16.75,"b":17.1,"lo":2384,"hi":2394,"vol":1200000},{"a":17.1,"b":17.41,"lo":2384,"hi":2394,"vol":8000000},{"a":4.09,"b":4.91,"lo":2374,"hi":2384,"vol":2200000},{"a":4.91,"b":5.26,"lo":2374,"hi":2384,"vol":3000000},{"a":6.61,"b":10.23,"lo":2374,"hi":2384,"vol":3000000},{"a":10.23,"b":13.55,"lo":2374,"hi":2384,"vol":1000000},{"a":13.55,"b":14.59,"lo":2374,"hi":2384,"vol":800000},{"a":14.59,"b":14.9,"lo":2374,"hi":2384,"vol":1500000},{"a":15.32,"b":15.55,"lo":2374,"hi":2384,"vol":2000000},{"a":15.55,"b":16.18,"lo":2374,"hi":2384,"vol":10500000},{"a":16.18,"b":16.44,"lo":2374,"hi":2384,"vol":9000000},{"a":16.44,"b":16.62,"lo":2374,"hi":2384,"vol":6000000},{"a":16.93,"b":17.24,"lo":2374,"hi":2384,"vol":11500000},{"a":17.24,"b":17.41,"lo":2374,"hi":2384,"vol":9500000},{"a":17.41,"b":17.77,"lo":2374,"hi":2384,"vol":4000000},{"a":21.92,"b":22.27,"lo":2374,"hi":2384,"vol":1500000},{"a":14.44,"b":14.9,"lo":2364,"hi":2374,"vol":3500000},{"a":14.9,"b":15.21,"lo":2364,"hi":2374,"vol":2000000},{"a":15.21,"b":15.55,"lo":2364,"hi":2374,"vol":5000000},{"a":15.55,"b":16,"lo":2364,"hi":2374,"vol":6000000},{"a":16,"b":16.62,"lo":2364,"hi":2374,"vol":5000000},{"a":16.62,"b":16.79,"lo":2364,"hi":2374,"vol":8000000},{"a":17.06,"b":17.41,"lo":2364,"hi":2374,"vol":2000000},{"a":17.41,"b":17.77,"lo":2364,"hi":2374,"vol":7000000},{"a":17.77,"b":17.94,"lo":2364,"hi":2374,"vol":5000000},{"a":21.92,"b":22.27,"lo":2364,"hi":2374,"vol":2000000},{"a":22.8,"b":23.95,"lo":2364,"hi":2374,"vol":1300000},{"a":12.59,"b":13.28,"lo":2354,"hi":2364,"vol":5500000},{"a":13.28,"b":14.09,"lo":2354,"hi":2364,"vol":6500000},{"a":14.09,"b":14.44,"lo":2354,"hi":2364,"vol":5500000},{"a":14.59,"b":14.9,"lo":2354,"hi":2364,"vol":7000000},{"a":14.9,"b":15.21,"lo":2354,"hi":2364,"vol":6000000},{"a":15.21,"b":15.4,"lo":2354,"hi":2364,"vol":9000000},{"a":16.75,"b":16.93,"lo":2354,"hi":2364,"vol":10000000},{"a":17.41,"b":17.77,"lo":2354,"hi":2364,"vol":5500000},{"a":17.77,"b":18.08,"lo":2354,"hi":2364,"vol":8000000},{"a":18.38,"b":18.74,"lo":2354,"hi":2364,"vol":6000000},{"a":18.83,"b":19.4,"lo":2354,"hi":2364,"vol":4000000},{"a":21.92,"b":22.45,"lo":2354,"hi":2364,"vol":5000000},{"a":22.45,"b":22.71,"lo":2354,"hi":2364,"vol":6000000},{"a":22.71,"b":23.33,"lo":2354,"hi":2364,"vol":4000000},{"a":23.33,"b":24.57,"lo":2354,"hi":2364,"vol":3000000},{"a":24.57,"b":25.27,"lo":2354,"hi":2364,"vol":6000000},{"a":25.27,"b":26.07,"lo":2354,"hi":2364,"vol":6500000},{"a":9.75,"b":10.08,"lo":2344,"hi":2354,"vol":5500000},{"a":14.59,"b":14.9,"lo":2344,"hi":2354,"vol":7000000},{"a":14.9,"b":15.13,"lo":2344,"hi":2354,"vol":10000000},{"a":15.13,"b":15.32,"lo":2344,"hi":2354,"vol":2000000},{"a":17.68,"b":18.08,"lo":2344,"hi":2354,"vol":4000000},{"a":18.08,"b":18.43,"lo":2344,"hi":2354,"vol":9000000},{"a":18.43,"b":18.74,"lo":2344,"hi":2354,"vol":12000000},{"a":18.74,"b":19.4,"lo":2344,"hi":2354,"vol":8000000},{"a":19.4,"b":19.8,"lo":2344,"hi":2354,"vol":7000000},{"a":19.8,"b":20.94,"lo":2344,"hi":2354,"vol":2000000},{"a":20.94,"b":21.39,"lo":2344,"hi":2354,"vol":5000000},{"a":21.39,"b":21.92,"lo":2344,"hi":2354,"vol":7000000},{"a":21.92,"b":22.71,"lo":2344,"hi":2354,"vol":6500000},{"a":22.71,"b":24.39,"lo":2344,"hi":2354,"vol":6000000},{"a":24.39,"b":25.23,"lo":2344,"hi":2354,"vol":6500000},{"a":25.23,"b":25.4,"lo":2344,"hi":2354,"vol":13000000},{"a":25.4,"b":26.07,"lo":2344,"hi":2354,"vol":6500000},{"a":26.07,"b":26.51,"lo":2344,"hi":2354,"vol":6000000},{"a":27.57,"b":27.74,"lo":2344,"hi":2354,"vol":2000000},{"a":27.74,"b":27.91,"lo":2344,"hi":2354,"vol":12500000},{"a":8.1,"b":9.27,"lo":2334,"hi":2344,"vol":5300000},{"a":9.27,"b":10.08,"lo":2334,"hi":2344,"vol":6000000},{"a":10.08,"b":12.59,"lo":2334,"hi":2344,"vol":5300000},{"a":13.74,"b":14.09,"lo":2334,"hi":2344,"vol":8500000},{"a":14.59,"b":14.9,"lo":2334,"hi":2344,"vol":6500000},{"a":14.9,"b":15.09,"lo":2334,"hi":2344,"vol":9000000},{"a":18.74,"b":19.18,"lo":2334,"hi":2344,"vol":6000000},{"a":19.18,"b":19.89,"lo":2334,"hi":2344,"vol":8000000},{"a":19.89,"b":20.5,"lo":2334,"hi":2344,"vol":6500000},{"a":20.94,"b":21.39,"lo":2334,"hi":2344,"vol":9000000},{"a":21.39,"b":22,"lo":2334,"hi":2344,"vol":5500000},{"a":23.95,"b":24.39,"lo":2334,"hi":2344,"vol":4000000},{"a":24.39,"b":26.07,"lo":2334,"hi":2344,"vol":3000000},{"a":26.07,"b":26.33,"lo":2334,"hi":2344,"vol":9000000},{"a":26.33,"b":26.68,"lo":2334,"hi":2344,"vol":6500000},{"a":26.68,"b":27.04,"lo":2334,"hi":2344,"vol":7000000},{"a":27.48,"b":27.74,"lo":2334,"hi":2344,"vol":5000000},{"a":12.74,"b":13.28,"lo":2324,"hi":2334,"vol":3000000},{"a":13.28,"b":13.59,"lo":2324,"hi":2334,"vol":9000000},{"a":13.59,"b":14.09,"lo":2324,"hi":2334,"vol":9500000},{"a":14.75,"b":14.94,"lo":2324,"hi":2334,"vol":10000000},{"a":14.94,"b":15.09,"lo":2324,"hi":2334,"vol":6000000},{"a":18.21,"b":18.43,"lo":2324,"hi":2334,"vol":2000000},{"a":19.71,"b":20.15,"lo":2324,"hi":2334,"vol":9000000},{"a":20.15,"b":20.42,"lo":2324,"hi":2334,"vol":8000000},{"a":20.42,"b":20.86,"lo":2324,"hi":2334,"vol":6000000},{"a":20.86,"b":21.65,"lo":2324,"hi":2334,"vol":1500000},{"a":22.36,"b":22.62,"lo":2324,"hi":2334,"vol":3000000},{"a":23.95,"b":24.21,"lo":2324,"hi":2334,"vol":6000000},{"a":26.24,"b":26.46,"lo":2324,"hi":2334,"vol":9500000},{"a":26.46,"b":26.73,"lo":2324,"hi":2334,"vol":6500000},{"a":27.39,"b":27.74,"lo":2324,"hi":2334,"vol":7000000},{"a":27.74,"b":27.91,"lo":2324,"hi":2334,"vol":13000000},{"a":9.6,"b":9.77,"lo":2314,"hi":2324,"vol":6000000},{"a":12.24,"b":12.43,"lo":2314,"hi":2324,"vol":9500000},{"a":12.43,"b":12.74,"lo":2314,"hi":2324,"vol":5000000},{"a":12.74,"b":13.09,"lo":2314,"hi":2324,"vol":8500000},{"a":13.09,"b":13.32,"lo":2314,"hi":2324,"vol":7000000},{"a":13.32,"b":14.09,"lo":2314,"hi":2324,"vol":8500000},{"a":14.09,"b":14.44,"lo":2314,"hi":2324,"vol":13000000},{"a":18.21,"b":18.43,"lo":2314,"hi":2324,"vol":3000000},{"a":20.33,"b":21.08,"lo":2314,"hi":2324,"vol":6500000},{"a":26.51,"b":26.86,"lo":2314,"hi":2324,"vol":5000000},{"a":26.86,"b":27.26,"lo":2314,"hi":2324,"vol":3000000},{"a":27.26,"b":27.48,"lo":2314,"hi":2324,"vol":4500000},{"a":27.57,"b":27.91,"lo":2314,"hi":2324,"vol":1500000},{"a":9.6,"b":9.93,"lo":2304,"hi":2314,"vol":3000000},{"a":12.09,"b":12.24,"lo":2304,"hi":2314,"vol":8500000},{"a":12.24,"b":12.59,"lo":2304,"hi":2314,"vol":7500000},{"a":12.59,"b":12.89,"lo":2304,"hi":2314,"vol":9500000},{"a":12.89,"b":14.09,"lo":2304,"hi":2314,"vol":7000000},{"a":14.09,"b":14.24,"lo":2304,"hi":2314,"vol":13500000},{"a":20.55,"b":20.9,"lo":2304,"hi":2314,"vol":6000000},{"a":26.64,"b":26.86,"lo":2304,"hi":2314,"vol":6500000},{"a":26.86,"b":27.08,"lo":2304,"hi":2314,"vol":10000000},{"a":27.08,"b":27.3,"lo":2304,"hi":2314,"vol":6000000},{"a":27.3,"b":27.48,"lo":2304,"hi":2314,"vol":4000000},{"a":9.93,"b":10.2,"lo":2294,"hi":2304,"vol":8000000},{"a":10.2,"b":10.62,"lo":2294,"hi":2304,"vol":6500000},{"a":10.62,"b":10.85,"lo":2294,"hi":2304,"vol":3500000},{"a":10.85,"b":11.24,"lo":2294,"hi":2304,"vol":5000000},{"a":11.24,"b":11.93,"lo":2294,"hi":2304,"vol":3500000},{"a":11.93,"b":12.09,"lo":2294,"hi":2304,"vol":10000000},{"a":12.09,"b":12.55,"lo":2294,"hi":2304,"vol":5000000},{"a":12.55,"b":12.74,"lo":2294,"hi":2304,"vol":7500000},{"a":12.74,"b":14.09,"lo":2294,"hi":2304,"vol":1500000},{"a":14.09,"b":14.44,"lo":2294,"hi":2304,"vol":2500000},{"a":20.59,"b":20.77,"lo":2294,"hi":2304,"vol":3000000},{"a":26.73,"b":27.04,"lo":2294,"hi":2304,"vol":4000000},{"a":27.04,"b":27.39,"lo":2294,"hi":2304,"vol":9000000},{"a":9.27,"b":9.58,"lo":2284,"hi":2294,"vol":4500000},{"a":9.6,"b":9.93,"lo":2284,"hi":2294,"vol":6500000},{"a":9.93,"b":10.58,"lo":2284,"hi":2294,"vol":1500000},{"a":10.58,"b":10.74,"lo":2284,"hi":2294,"vol":11000000},{"a":10.74,"b":11.08,"lo":2284,"hi":2294,"vol":14000000},{"a":11.08,"b":11.43,"lo":2284,"hi":2294,"vol":17000000},{"a":11.43,"b":11.58,"lo":2284,"hi":2294,"vol":13000000},{"a":11.58,"b":11.85,"lo":2284,"hi":2294,"vol":7000000},{"a":11.85,"b":12.09,"lo":2284,"hi":2294,"vol":4000000},{"a":26.73,"b":27.39,"lo":2284,"hi":2294,"vol":3000000},{"a":9.39,"b":9.54,"lo":2274,"hi":2284,"vol":2000000},{"a":10.58,"b":10.74,"lo":2274,"hi":2284,"vol":10000000},{"a":10.74,"b":11.54,"lo":2274,"hi":2284,"vol":5500000},{"a":11.54,"b":11.82,"lo":2274,"hi":2284,"vol":2000000},{"a":14.09,"b":14.44,"lo":2274,"hi":2284,"vol":2000000},{"a":26.91,"b":27.39,"lo":2274,"hi":2284,"vol":2000000},{"a":4.26,"b":4.72,"lo":2264,"hi":2274,"vol":5500000},{"a":8.11,"b":8.42,"lo":2264,"hi":2274,"vol":3000000},{"a":8.77,"b":9.04,"lo":2264,"hi":2274,"vol":3000000},{"a":10.62,"b":10.85,"lo":2264,"hi":2274,"vol":1500000},{"a":11.31,"b":11.78,"lo":2264,"hi":2274,"vol":1500000},{"a":4.26,"b":4.37,"lo":2254,"hi":2264,"vol":4000000},{"a":4.37,"b":4.68,"lo":2254,"hi":2264,"vol":2000000},{"a":4.68,"b":4.91,"lo":2254,"hi":2264,"vol":6000000},{"a":6.76,"b":7.61,"lo":2254,"hi":2264,"vol":800000},{"a":7.61,"b":7.92,"lo":2254,"hi":2264,"vol":4000000},{"a":7.92,"b":8.46,"lo":2254,"hi":2264,"vol":3000000},{"a":8.46,"b":9.23,"lo":2254,"hi":2264,"vol":6000000},{"a":9.23,"b":9.58,"lo":2254,"hi":2264,"vol":3500000},{"a":4.8,"b":5.11,"lo":2244,"hi":2254,"vol":5500000},{"a":6.61,"b":6.92,"lo":2244,"hi":2254,"vol":1500000},{"a":6.92,"b":7.61,"lo":2244,"hi":2254,"vol":5500000},{"a":7.61,"b":8,"lo":2244,"hi":2254,"vol":6000000},{"a":8,"b":8.46,"lo":2244,"hi":2254,"vol":5000000},{"a":8.54,"b":9.23,"lo":2244,"hi":2254,"vol":4000000},{"a":9.23,"b":9.54,"lo":2244,"hi":2254,"vol":3500000},{"a":14.09,"b":27.91,"lo":2244,"hi":2254,"vol":9700000},{"a":4.09,"b":4.68,"lo":2234,"hi":2244,"vol":600000},{"a":4.91,"b":5.22,"lo":2234,"hi":2244,"vol":5000000},{"a":6.76,"b":6.92,"lo":2234,"hi":2244,"vol":3000000},{"a":6.92,"b":7.11,"lo":2234,"hi":2244,"vol":7000000},{"a":7.11,"b":7.57,"lo":2234,"hi":2244,"vol":9000000},{"a":7.57,"b":7.92,"lo":2234,"hi":2244,"vol":6000000},{"a":7.92,"b":8.23,"lo":2234,"hi":2244,"vol":6000000},{"a":8.23,"b":8.85,"lo":2234,"hi":2244,"vol":3000000},{"a":8.85,"b":9.43,"lo":2234,"hi":2244,"vol":2000000},{"a":4.09,"b":4.22,"lo":2224,"hi":2234,"vol":9000000},{"a":4.22,"b":4.41,"lo":2224,"hi":2234,"vol":10000000},{"a":4.41,"b":4.95,"lo":2224,"hi":2234,"vol":6000000},{"a":4.95,"b":5.22,"lo":2224,"hi":2234,"vol":3000000},{"a":6.76,"b":6.92,"lo":2224,"hi":2234,"vol":8000000},{"a":6.92,"b":7.54,"lo":2224,"hi":2234,"vol":6500000},{"a":7.54,"b":8.23,"lo":2224,"hi":2234,"vol":1500000},{"a":9.08,"b":9.31,"lo":2224,"hi":2234,"vol":1500000},{"a":16.79,"b":17.06,"lo":2224,"hi":2234,"vol":800000},{"a":4.09,"b":4.3,"lo":2214,"hi":2224,"vol":3000000},{"a":5.07,"b":5.26,"lo":2214,"hi":2224,"vol":4000000},{"a":5.61,"b":5.96,"lo":2214,"hi":2224,"vol":3000000},{"a":6.07,"b":6.42,"lo":2214,"hi":2224,"vol":6000000},{"a":6.76,"b":6.92,"lo":2214,"hi":2224,"vol":6500000},{"a":6.92,"b":7.3,"lo":2214,"hi":2224,"vol":2000000},{"a":17.59,"b":27.91,"lo":2214,"hi":2224,"vol":700000},{"a":4.09,"b":4.33,"lo":2204,"hi":2214,"vol":4000000},{"a":5.22,"b":5.38,"lo":2204,"hi":2214,"vol":4000000},{"a":5.61,"b":5.96,"lo":2204,"hi":2214,"vol":6500000},{"a":5.96,"b":6.22,"lo":2204,"hi":2214,"vol":3000000},{"a":18.12,"b":18.65,"lo":2204,"hi":2214,"vol":800000},{"a":19.53,"b":22.58,"lo":2204,"hi":2214,"vol":1200000},{"a":23.95,"b":24.74,"lo":2204,"hi":2214,"vol":1200000},{"a":25.89,"b":27.91,"lo":2204,"hi":2214,"vol":1000000},{"a":5.42,"b":5.61,"lo":2194,"hi":2204,"vol":7000000},{"a":5.61,"b":5.92,"lo":2194,"hi":2204,"vol":3000000},{"a":5.92,"b":6.11,"lo":2194,"hi":2204,"vol":9500000},{"a":6.61,"b":15.25,"lo":2194,"hi":2204,"vol":1600000},{"a":4.09,"b":4.26,"lo":2194,"hi":2204,"vol":800000},{"a":18.25,"b":18.6,"lo":2194,"hi":2204,"vol":2500000},{"a":19.4,"b":22.58,"lo":2194,"hi":2204,"vol":2000000},{"a":23.9,"b":24.39,"lo":2194,"hi":2204,"vol":2800000},{"a":26.07,"b":26.88,"lo":2194,"hi":2204,"vol":2500000},{"a":26.88,"b":27.91,"lo":2194,"hi":2204,"vol":3500000},{"a":5.3,"b":5.61,"lo":2184,"hi":2194,"vol":5000000},{"a":5.92,"b":6.11,"lo":2184,"hi":2194,"vol":4000000},{"a":4.09,"b":4.26,"lo":2184,"hi":2194,"vol":1500000},{"a":20.42,"b":21.08,"lo":2184,"hi":2194,"vol":1000000},{"a":26.46,"b":27.91,"lo":2184,"hi":2194,"vol":5000000},{"a":4.09,"b":5.22,"lo":2174,"hi":2184,"vol":500000},{"a":5.22,"b":7.11,"lo":2174,"hi":2184,"vol":1000000},{"a":7.11,"b":14.59,"lo":2174,"hi":2184,"vol":4500000},{"a":14.9,"b":15.09,"lo":2174,"hi":2184,"vol":500000},{"a":20.42,"b":21.08,"lo":2174,"hi":2184,"vol":600000},{"a":26.6,"b":27.57,"lo":2174,"hi":2184,"vol":800000},{"a":26.82,"b":27.43,"lo":2164,"hi":2174,"vol":800000},{"a":4.09,"b":4.91,"lo":2154,"hi":2164,"vol":2500000},{"a":4.91,"b":7.77,"lo":2154,"hi":2164,"vol":2000000},{"a":7.77,"b":12.43,"lo":2154,"hi":2164,"vol":2200000},{"a":12.43,"b":13.78,"lo":2154,"hi":2164,"vol":1000000},{"a":14.09,"b":14.44,"lo":2154,"hi":2164,"vol":2500000},{"a":26.91,"b":27.23,"lo":2154,"hi":2164,"vol":1000000},{"a":4.09,"b":5.22,"lo":2144,"hi":2154,"vol":3200000},{"a":5.22,"b":5.61,"lo":2144,"hi":2154,"vol":4000000},{"a":5.61,"b":12.43,"lo":2144,"hi":2154,"vol":2600000},{"a":4.09,"b":9.77,"lo":2134,"hi":2144,"vol":1400000},{"a":10.31,"b":12.09,"lo":2134,"hi":2144,"vol":1000000},{"a":10.54,"b":11,"lo":2134,"hi":2144,"vol":1400000},{"a":4.09,"b":9.77,"lo":2124,"hi":2134,"vol":2000000}]}}
